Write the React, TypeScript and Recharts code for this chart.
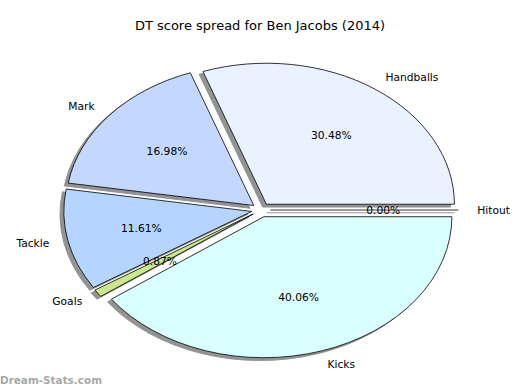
import { Pie, PieChart } from 'recharts';

const categories = ['Handballs', 'Mark', 'Tackle', 'Goals', 'Kicks', 'Hitout'];
const shares = [30.48, 16.98, 11.61, 0.87, 40.06, 0.0];
const colors = ['#eaf1ff', '#c4d7ff', '#b3d5ff', '#c9e98b', '#d9ffff', '#e0e0e0'];

const data = categories.map((name, i) => ({ name, value: shares[i], fill: colors[i] }));

// matplotlib-style squashed pie: x radius is wider than y radius
const X_STRETCH = 188 / 141;
const EXPLODE = 0.05;
const RAD = Math.PI / 180;
const FONT = 'DejaVu Sans, sans-serif';

function wedge(cx: number, cy: number, r: number, start: number, end: number, mid: number, sx = 0, sy = 0) {
  const ox = cx + EXPLODE * r * X_STRETCH * Math.cos(mid * RAD) + sx;
  const oy = cy - EXPLODE * r * Math.sin(mid * RAD) + sy;
  const pt = (a: number) => [ox + r * X_STRETCH * Math.cos(a * RAD), oy - r * Math.sin(a * RAD)];
  const [x0, y0] = pt(start);
  const [x1, y1] = pt(end);
  if (Math.abs(end - start) < 0.01) return `M${ox},${oy}L${x0},${y0}`;
  const large = Math.abs(end - start) > 180 ? 1 : 0;
  return `M${ox},${oy}L${x0},${y0}A${r * X_STRETCH},${r} 0 ${large} 0 ${x1},${y1}Z`;
}

const shadowShape = (p: any) => (
  <path
    d={wedge(p.cx, p.cy, p.outerRadius, p.startAngle, p.endAngle, p.midAngle, -3.8, 2.8)}
    fill="#939393"
    stroke="#939393"
    strokeWidth={1}
  />
);

const sliceShape = (p: any) => (
  <path
    d={wedge(p.cx, p.cy, p.outerRadius, p.startAngle, p.endAngle, p.midAngle)}
    fill={p.fill}
    stroke="#000"
    strokeWidth={0.8}
  />
);

const renderLabel = (p: any) => {
  const { cx, cy, outerRadius: r, midAngle, name, value } = p;
  const c = Math.cos(midAngle * RAD);
  const s = Math.sin(midAngle * RAD);
  const ox = cx + EXPLODE * r * X_STRETCH * c;
  const oy = cy - EXPLODE * r * s;
  return (
    <g>
      <text
        x={ox + 1.1 * r * X_STRETCH * c}
        y={oy - 1.1 * r * s}
        textAnchor={c > 0 ? 'start' : 'end'}
        dominantBaseline="central"
        fontSize={10.7}
        fontFamily={FONT}
        fill="#000"
      >
        {name}
      </text>
      <text
        x={ox + 0.6 * r * X_STRETCH * c}
        y={oy - 0.6 * r * s}
        textAnchor="middle"
        dominantBaseline="central"
        fontSize={10.7}
        fontFamily={FONT}
        fill="#000"
      >
        {value.toFixed(2)}%
      </text>
    </g>
  );
};

export default function App() {
  return (
    <div style={{ position: 'absolute', left: 0, top: 0 }}>
      <PieChart width={520} height={390} margin={{ top: 0, right: 0, bottom: 0, left: 0 }}>
        <text x={260} y={25} textAnchor="middle" dominantBaseline="central" fontSize={13} fontFamily={FONT} fill="#000">
          DT score spread for Ben Jacobs (2014)
        </text>
        <Pie
          data={data}
          dataKey="value"
          nameKey="name"
          cx={261}
          cy={210}
          outerRadius={141}
          startAngle={0}
          endAngle={360}
          shape={shadowShape}
          labelLine={false}
          isAnimationActive={false}
        />
        <Pie
          data={data}
          dataKey="value"
          nameKey="name"
          cx={261}
          cy={210}
          outerRadius={141}
          startAngle={0}
          endAngle={360}
          shape={sliceShape}
          label={renderLabel}
          labelLine={false}
          isAnimationActive={false}
        />
        <text
          x={0}
          y={380}
          dominantBaseline="central"
          fontSize={11}
          fontWeight="bold"
          fontFamily={FONT}
          fill="#a8a8a8"
          textLength={102}
          lengthAdjust="spacingAndGlyphs"
        >
          Dream-Stats.com
        </text>
      </PieChart>
    </div>
  );
}
